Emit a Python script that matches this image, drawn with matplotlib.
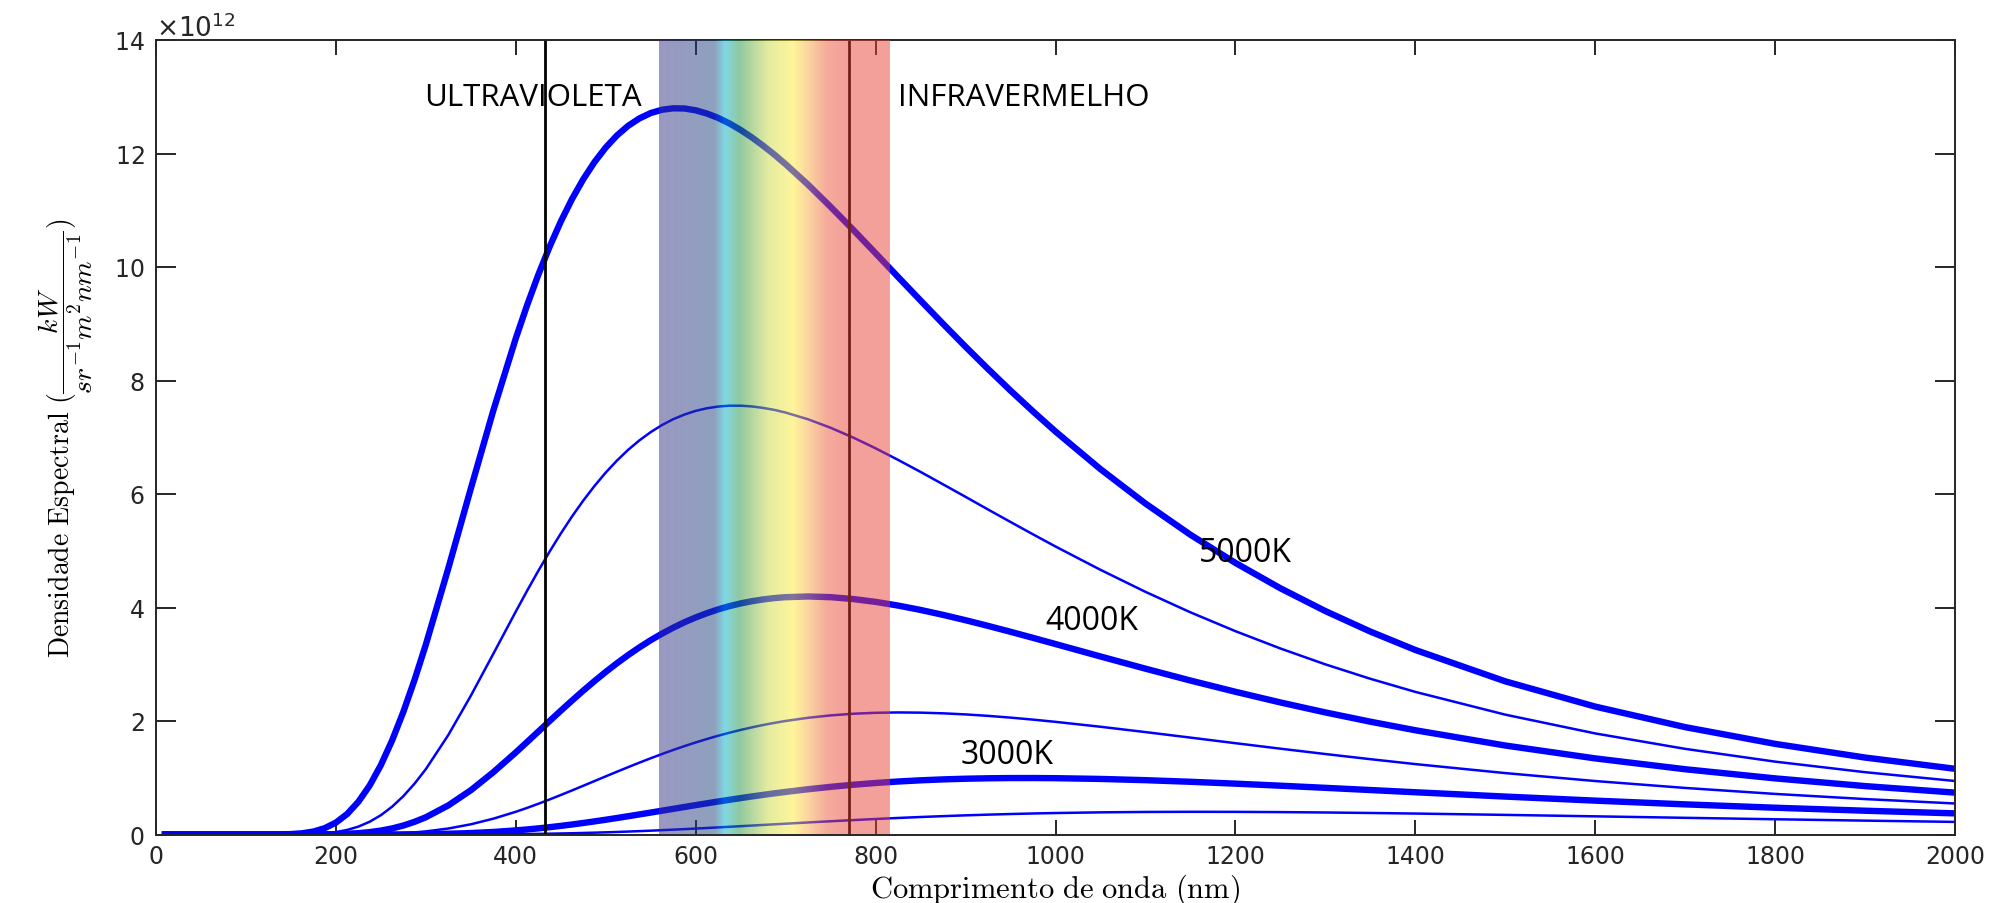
import numpy as np
import matplotlib
matplotlib.use('Agg')
import matplotlib.pyplot as plt
from matplotlib.colors import LinearSegmentedColormap
from matplotlib.ticker import ScalarFormatter

# wavelength (nm)
wl = [10, 50, 100, 125, 150,
      162.5, 175, 187.5, 200, 212.5, 225, 237.5, 250, 262.5, 275, 287.5, 300,
      325, 350, 375, 400,
      412.5, 425, 437.5, 450, 462.5, 475, 487.5, 500,
      512.5, 525, 537.5, 550, 562.5, 575, 587.5, 600,
      612.5, 625, 637.5, 650, 662.5, 675, 687.5, 700,
      725, 750, 775, 800, 825, 850, 875, 900, 925, 950, 975, 1000,
      1050, 1100, 1150, 1200, 1250, 1300, 1350, 1400,
      1500, 1600, 1700, 1800, 1900, 2000]

# spectral density, in units of 1e12
t5000 = [0, 0, 0, 0.0004, 0.0073,
         0.0214, 0.052, 0.111, 0.210, 0.361, 0.577, 0.862, 1.223, 1.658, 2.162, 2.728, 3.347,
         4.692, 6.096, 7.471, 8.743,
         9.324, 9.862, 10.354, 10.800, 11.198, 11.547, 11.849, 12.106,
         12.319, 12.489, 12.619, 12.713, 12.771, 12.796, 12.793, 12.761,
         12.704, 12.627, 12.530, 12.414, 12.283, 12.137, 11.980, 11.811,
         11.449, 11.060, 10.657, 10.242, 9.824, 9.409, 8.998, 8.595, 8.203, 7.822, 7.455, 7.101,
         6.438, 5.832, 5.282, 4.786, 4.339, 3.937, 3.576, 3.252,
         2.699, 2.254, 1.892, 1.597, 1.356, 1.158]
t4500 = [0, 0, 0, 0, 0.0009,
         0.0030, 0.0084, 0.0202, 0.0424, 0.0803, 0.139, 0.2245, 0.340, 0.4904, 0.676, 0.8973, 1.152,
         1.754, 2.445, 3.184, 3.929,
         4.293, 4.645, 4.983, 5.303, 5.604, 5.884, 6.142, 6.378,
         6.590, 6.780, 6.946, 7.091, 7.215, 7.318, 7.400, 7.465,
         7.511, 7.541, 7.556, 7.556, 7.543, 7.517, 7.482, 7.435,
         7.316, 7.167, 6.995, 6.805, 6.601, 6.389, 6.170, 5.950, 5.727, 5.507, 5.289, 5.075,
         4.664, 4.276, 3.915, 3.583, 3.278, 2.998, 2.744, 2.513,
         2.112, 1.781, 1.509, 1.284, 1.098, 0.943]
t4000 = [0, 0, 0, 0, 0.0001,
         0.0003, 0.0009, 0.0024, 0.0058, 0.0122, 0.0235, 0.0417, 0.0688, 0.1069, 0.158, 0.2235, 0.304,
         0.513, 0.780, 1.097, 1.446,
         1.629, 1.813, 1.998, 2.181, 2.360, 2.535, 2.703, 2.865,
         3.018, 3.163, 3.298, 3.424, 3.539, 3.644, 3.740, 3.825,
         3.900, 3.967, 4.024, 4.072, 4.111, 4.142, 4.166, 4.182,
         4.194, 4.182, 4.149, 4.099, 4.034, 3.957, 3.870, 3.776, 3.676, 3.572, 3.465, 3.356,
         3.137, 2.922, 2.713, 2.515, 2.327, 2.151, 1.988, 1.837,
         1.568, 1.341, 1.150, 0.989, 0.853, 0.738]
t3500 = [0, 0, 0, 0, 0,
         0, 0, 0.0002, 0.0004, 0.0011, 0.0024, 0.0048, 0.0088, 0.0151, 0.0244, 0.0374, 0.0549,
         0.1055, 0.1798, 0.2786, 0.4003,
         0.4685, 0.5410, 0.6170, 0.6958, 0.7767, 0.8588, 0.9417, 1.0245,
         1.1066, 1.1875, 1.2667, 1.3437, 1.4179, 1.4893, 1.5575, 1.6220,
         1.6829, 1.7403, 1.7934, 1.8426, 1.8882, 1.9296, 1.9670, 2.0007,
         2.0568, 2.0989, 2.1278, 2.1448, 2.1509, 2.1472, 2.1353, 2.1160, 2.0905, 2.0595, 2.0242, 1.985,
         1.8986, 1.8046, 1.7074, 1.6090, 1.5122, 1.4180, 1.3273, 1.2408,
         1.0820, 0.9422, 0.8204, 0.7151, 0.6245, 0.5466]
t3000 = [0, 0, 0, 0, 0,
         0, 0, 0, 0, 0, 0.0001, 0.0003, 0.0006, 0.0011, 0.0020, 0.0035, 0.0056,
         0.0128, 0.0254, 0.0448, 0.0722,
         0.0890, 0.1079, 0.1289, 0.1518, 0.1765, 0.2030, 0.2310, 0.2602,
         0.2907, 0.3220, 0.3540, 0.3865, 0.4193, 0.4521, 0.4849, 0.5175,
         0.5495, 0.5809, 0.6117, 0.6415, 0.6705, 0.6983, 0.7250, 0.7505,
         0.7978, 0.8398, 0.8764, 0.9078, 0.9338, 0.9548, 0.9711, 0.9829, 0.9906, 0.9946, 0.9950, 0.9923,
         0.9791, 0.9573, 0.9290, 0.8961, 0.8601, 0.8223, 0.7835, 0.7445,
         0.6683, 0.5967, 0.5310, 0.4718, 0.4190, 0.3721]
t2500 = [0, 0, 0, 0, 0,
         0, 0, 0, 0, 0, 0, 0, 0, 0, 0, 0.0001, 0.0002,
         0.0007, 0.0016, 0.0035, 0.0066,
         0.0087, 0.0113, 0.0144, 0.0180, 0.0222, 0.0270, 0.0323, 0.0382,
         0.0447, 0.0518, 0.0594, 0.0676, 0.0762, 0.0853, 0.0947, 0.1046,
         0.1147, 0.1252, 0.1358, 0.1466, 0.1575, 0.1685, 0.1795, 0.1905,
         0.2123, 0.2335, 0.2538, 0.2732, 0.2914, 0.3082, 0.3236, 0.3375, 0.3499, 0.3609, 0.3703, 0.3783,
         0.3903, 0.3973, 0.3999, 0.3988, 0.3946, 0.3879, 0.3793, 0.3691,
         0.3456, 0.3201, 0.2940, 0.2686, 0.2444, 0.2219]

thick_series = [t5000, t4000, t3000]
thin_series = [t4500, t3500, t2500]

# visible band (nm) and its colours (as seen over white)
band_nm = [559, 620, 632, 648, 680, 708, 725, 745, 765, 815]
band_colors = ['#9A98C2', '#8EA0BE', '#80D8E4', '#90C8A0', '#E4ECA0',
               '#FFF59A', '#FBD4A0', '#F5AC9A', '#F4A09A', '#F4A09A']
band_alpha = 0.5

uv_line = 432
ir_line = 770.5

labels = ['5000K', '4000K', '3000K']
label_pos = [(1160, 4.82), (989, 3.62), (895, 1.26)]

SCALE = 1e12

fig = plt.figure(figsize=(20.1, 9.04), dpi=100)
ax = fig.add_axes([156 / 2010, 1 - 835.5 / 904, 1799 / 2010, 794.5 / 904])

x = np.array(wl, dtype=float)
for s in thick_series:
    ax.plot(x, np.array(s) * SCALE, color='#0000FF', lw=4.6, zorder=2,
            solid_joinstyle='round')
for s in thin_series:
    ax.plot(x, np.array(s) * SCALE, color='#0000FF', lw=1.8, zorder=2,
            solid_joinstyle='round')

ax.axvline(uv_line, color='black', lw=2.0, zorder=2.2)
ax.axvline(ir_line, color='black', lw=2.0, zorder=2.2)

# band: underlying colours such that alpha blend over white gives observed colours
def pure(hexc):
    c = np.array(matplotlib.colors.to_rgb(hexc))
    return tuple(np.clip((c - (1 - band_alpha)) / band_alpha, 0, 1))

lo, hi = band_nm[0], band_nm[-1]
stops = [((n - lo) / (hi - lo), pure(c)) for n, c in zip(band_nm, band_colors)]
cmap = LinearSegmentedColormap.from_list('spec', stops)
grad = np.linspace(0, 1, 800).reshape(1, -1)
ax.imshow(grad, cmap=cmap, extent=[lo, hi, 0, 14 * SCALE], aspect='auto',
          alpha=band_alpha, zorder=3, interpolation='bilinear')

ax.set_xlim(0, 2000)
ax.set_ylim(0, 14 * SCALE)
ax.set_xticks(np.arange(0, 2001, 200))
ax.set_yticks(np.arange(0, 14.01, 2) * SCALE)

fmt = ScalarFormatter(useMathText=True)
fmt.set_powerlimits((12, 12))
ax.yaxis.set_major_formatter(fmt)

axcol = '#262626'
for sp in ax.spines.values():
    sp.set_linewidth(1.4)
    sp.set_color(axcol)
ax.tick_params(axis='both', direction='in', width=1.4, colors=axcol,
               labelsize=17, top=True, right=True)
ax.tick_params(axis='x', length=10.8, pad=7)
ax.tick_params(axis='y', length=14.4, pad=8.5)
ot = ax.yaxis.get_offset_text()
ot.set_fontsize(19)
ot.set_color(axcol)

txt_font = ['Open Sans', 'DejaVu Sans']
ax.text(540, 12.85 * SCALE, 'ULTRAVIOLETA', ha='right', va='baseline',
        fontsize=22.5, family=txt_font, color='black', zorder=5)
ax.text(825, 12.85 * SCALE, 'INFRAVERMELHO', ha='left', va='baseline',
        fontsize=22.5, family=txt_font, color='black', zorder=5)
for lab, (lx, ly) in zip(labels, label_pos):
    ax.text(lx, ly * SCALE, lab, ha='left', va='baseline', fontsize=23,
            family=txt_font, color='black', zorder=5)

xl = ax.set_xlabel(r'$\mathrm{Comprimento\ de\ onda\ (nm)}$', fontsize=22)
xl.set_math_fontfamily('cm')
ax.xaxis.set_label_coords(0.5, -0.046)
yl = ax.set_ylabel(r'$\mathrm{Densidade\ Espectral}\ (\dfrac{kW}{sr^{-1}m^{2}nm^{-1}})$',
                   fontsize=20)
yl.set_math_fontfamily('cm')
ax.yaxis.set_label_coords(-0.034, 0.5)

fig.savefig('out.png', dpi=100, facecolor='white')
